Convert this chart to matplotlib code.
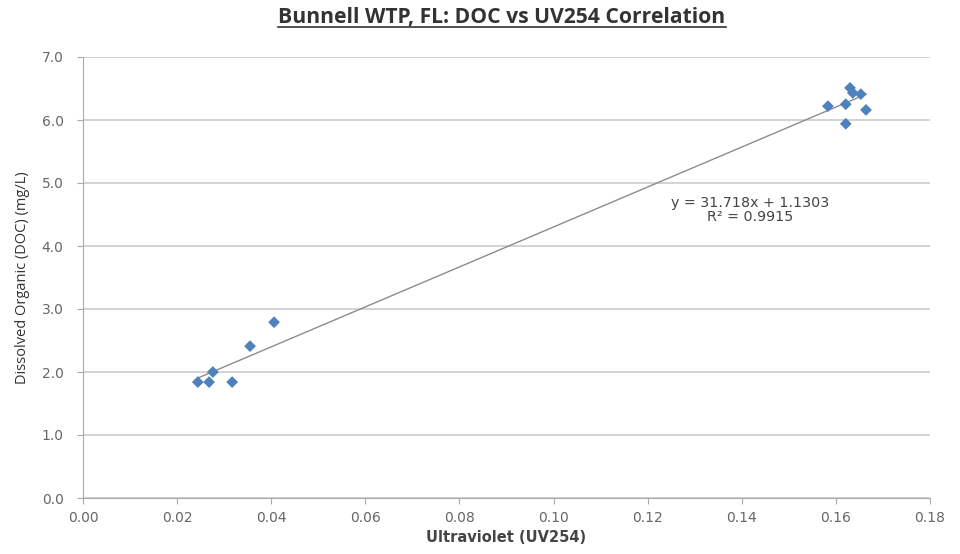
import matplotlib
matplotlib.use("Agg")
import matplotlib.pyplot as plt
import numpy as np

uv254 = [0.0244, 0.0268, 0.0276, 0.0317, 0.0355, 0.0406,
         0.1583, 0.1621, 0.1621, 0.1630, 0.1636, 0.1653, 0.1664]
doc = [1.84, 1.84, 2.00, 1.84, 2.41, 2.79,
       6.22, 6.25, 5.94, 6.51, 6.43, 6.41, 6.16]
slope = 31.718
intercept = 1.1303
r2 = 0.9915
xticks = [0.00, 0.02, 0.04, 0.06, 0.08, 0.10, 0.12, 0.14, 0.16, 0.18]
yticks = [0.0, 1.0, 2.0, 3.0, 4.0, 5.0, 6.0, 7.0]

fig = plt.figure(figsize=(9.6, 5.54), dpi=100)
ax = fig.add_axes([83/960, 1-498/554, (930-83)/960, (498-57)/554])

ax.set_xlim(0, 0.18)
ax.set_ylim(0, 7.0)
ax.set_xticks(xticks)
ax.set_yticks(yticks)
ax.set_xticklabels([f"{v:.2f}" for v in xticks], fontsize=10, color="#666666")
ax.set_yticklabels([f"{v:.1f}" for v in yticks], fontsize=10, color="#666666")
ax.yaxis.grid(True, color="#cccccc", linewidth=1.2)
ax.set_axisbelow(True)
for s in ["top", "right"]:
    ax.spines[s].set_visible(False)
for s in ["left", "bottom"]:
    ax.spines[s].set_color("#aaaaaa")
ax.tick_params(axis="both", direction="out", length=4, color="#aaaaaa")
ax.tick_params(axis="x", pad=5)
ax.tick_params(axis="y", pad=10)

xs = np.array([min(uv254), max(uv254)])
ax.plot(xs, slope * xs + intercept, color="#8c8c8c", linewidth=1)
ax.scatter(uv254, doc, marker="D", s=36, color="#4f81bd", zorder=3, edgecolors="none")

ax.text(0.1417, 4.57, f"y = {slope}x + {intercept}\nR² = {r2}", ha="center", va="center",
        fontsize=10.3, color="#444444", linespacing=1.0)

ax.set_xlabel("Ultraviolet (UV254)", fontsize=10.5, fontweight="bold", color="#444444", labelpad=4)
ax.set_ylabel("Dissolved Organic (DOC) (mg/L)", fontsize=10.5, color="#333333", labelpad=8,
              family="Open Sans")

title = fig.text(502/960, 1-18/554, "Bunnell WTP, FL: DOC vs UV254 Correlation", ha="center", va="center",
                 fontsize=15.2, fontweight="bold", color="#333333", family="Open Sans")
fig.canvas.draw()
bb = title.get_window_extent(fig.canvas.get_renderer())
uy = (bb.y0 + 2) / fig.bbox.height
fig.add_artist(plt.Line2D([bb.x0 / fig.bbox.width, bb.x1 / fig.bbox.width], [uy, uy],
                          color="#333333", linewidth=1.2))

fig.savefig("out.png", dpi=100)
